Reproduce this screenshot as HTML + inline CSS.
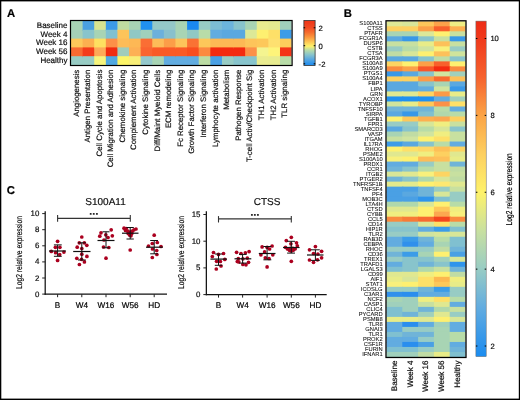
<!DOCTYPE html><html><head><meta charset="utf-8"><style>
html,body{margin:0;padding:0;background:#fff;}
svg{display:block;will-change:transform;}
text{font-family:"Liberation Sans", sans-serif;text-rendering:geometricPrecision;stroke:#000;stroke-width:0.18px;}
</style></head><body>
<svg width="520" height="400" viewBox="0 0 520 400">
<rect x="0" y="0" width="520" height="400" fill="#fff"/>
<rect x="71.00" y="21.00" width="12.61" height="9.80" fill="#a8d4b4"/>
<rect x="71.00" y="29.80" width="12.61" height="9.80" fill="#a4d0b8"/>
<rect x="71.00" y="38.60" width="12.61" height="9.80" fill="#fdc85a"/>
<rect x="71.00" y="47.40" width="12.61" height="9.80" fill="#f86a32"/>
<rect x="71.00" y="56.20" width="12.61" height="8.80" fill="#98ccc4"/>
<rect x="82.61" y="21.00" width="12.61" height="9.80" fill="#4aa0e0"/>
<rect x="82.61" y="29.80" width="12.61" height="9.80" fill="#88c4cc"/>
<rect x="82.61" y="38.60" width="12.61" height="9.80" fill="#fcb050"/>
<rect x="82.61" y="47.40" width="12.61" height="9.80" fill="#f43c1a"/>
<rect x="82.61" y="56.20" width="12.61" height="8.80" fill="#98ccc4"/>
<rect x="94.22" y="21.00" width="12.61" height="9.80" fill="#d8e490"/>
<rect x="94.22" y="29.80" width="12.61" height="9.80" fill="#a8d4b4"/>
<rect x="94.22" y="38.60" width="12.61" height="9.80" fill="#fee060"/>
<rect x="94.22" y="47.40" width="12.61" height="9.80" fill="#fdaa58"/>
<rect x="94.22" y="56.20" width="12.61" height="8.80" fill="#f6f47c"/>
<rect x="105.83" y="21.00" width="12.61" height="9.80" fill="#3c9ae6"/>
<rect x="105.83" y="29.80" width="12.61" height="9.80" fill="#80c0d0"/>
<rect x="105.83" y="38.60" width="12.61" height="9.80" fill="#fc9048"/>
<rect x="105.83" y="47.40" width="12.61" height="9.80" fill="#f02c10"/>
<rect x="105.83" y="56.20" width="12.61" height="8.80" fill="#50a8e0"/>
<rect x="117.44" y="21.00" width="12.61" height="9.80" fill="#c0dca0"/>
<rect x="117.44" y="29.80" width="12.61" height="9.80" fill="#fdc45a"/>
<rect x="117.44" y="38.60" width="12.61" height="9.80" fill="#fdbc58"/>
<rect x="117.44" y="47.40" width="12.61" height="9.80" fill="#a0ccbc"/>
<rect x="117.44" y="56.20" width="12.61" height="8.80" fill="#fcf468"/>
<rect x="129.05" y="21.00" width="12.61" height="9.80" fill="#a8d4b4"/>
<rect x="129.05" y="29.80" width="12.61" height="9.80" fill="#90c8c4"/>
<rect x="129.05" y="38.60" width="12.61" height="9.80" fill="#fdb855"/>
<rect x="129.05" y="47.40" width="12.61" height="9.80" fill="#fdb055"/>
<rect x="129.05" y="56.20" width="12.61" height="8.80" fill="#f8ee78"/>
<rect x="140.66" y="21.00" width="12.61" height="9.80" fill="#2090f0"/>
<rect x="140.66" y="29.80" width="12.61" height="9.80" fill="#a0d0bc"/>
<rect x="140.66" y="38.60" width="12.61" height="9.80" fill="#fa6e34"/>
<rect x="140.66" y="47.40" width="12.61" height="9.80" fill="#fa6430"/>
<rect x="140.66" y="56.20" width="12.61" height="8.80" fill="#94c8cc"/>
<rect x="152.27" y="21.00" width="12.61" height="9.80" fill="#94c8c8"/>
<rect x="152.27" y="29.80" width="12.61" height="9.80" fill="#6cb0dc"/>
<rect x="152.27" y="38.60" width="12.61" height="9.80" fill="#fdbc58"/>
<rect x="152.27" y="47.40" width="12.61" height="9.80" fill="#fa5a26"/>
<rect x="152.27" y="56.20" width="12.61" height="8.80" fill="#a8d4b4"/>
<rect x="163.88" y="21.00" width="12.61" height="9.80" fill="#94c8c8"/>
<rect x="163.88" y="29.80" width="12.61" height="9.80" fill="#88c0cc"/>
<rect x="163.88" y="38.60" width="12.61" height="9.80" fill="#fc9e48"/>
<rect x="163.88" y="47.40" width="12.61" height="9.80" fill="#fa5a26"/>
<rect x="163.88" y="56.20" width="12.61" height="8.80" fill="#62ace0"/>
<rect x="175.49" y="21.00" width="12.61" height="9.80" fill="#a8d4b4"/>
<rect x="175.49" y="29.80" width="12.61" height="9.80" fill="#a8d4b4"/>
<rect x="175.49" y="38.60" width="12.61" height="9.80" fill="#fdc45a"/>
<rect x="175.49" y="47.40" width="12.61" height="9.80" fill="#fa5a26"/>
<rect x="175.49" y="56.20" width="12.61" height="8.80" fill="#62ace0"/>
<rect x="187.11" y="21.00" width="12.61" height="9.80" fill="#1a88f0"/>
<rect x="187.11" y="29.80" width="12.61" height="9.80" fill="#90c8c4"/>
<rect x="187.11" y="38.60" width="12.61" height="9.80" fill="#fa7234"/>
<rect x="187.11" y="47.40" width="12.61" height="9.80" fill="#fa4e1e"/>
<rect x="187.11" y="56.20" width="12.61" height="8.80" fill="#62ace0"/>
<rect x="198.72" y="21.00" width="12.61" height="9.80" fill="#98ccc4"/>
<rect x="198.72" y="29.80" width="12.61" height="9.80" fill="#b8dca8"/>
<rect x="198.72" y="38.60" width="12.61" height="9.80" fill="#fdc85a"/>
<rect x="198.72" y="47.40" width="12.61" height="9.80" fill="#fc8a40"/>
<rect x="198.72" y="56.20" width="12.61" height="8.80" fill="#bcdca4"/>
<rect x="210.33" y="21.00" width="12.61" height="9.80" fill="#7cbcd4"/>
<rect x="210.33" y="29.80" width="12.61" height="9.80" fill="#62ace0"/>
<rect x="210.33" y="38.60" width="12.61" height="9.80" fill="#fdb855"/>
<rect x="210.33" y="47.40" width="12.61" height="9.80" fill="#f42a10"/>
<rect x="210.33" y="56.20" width="12.61" height="8.80" fill="#4aa0e4"/>
<rect x="221.94" y="21.00" width="12.61" height="9.80" fill="#6cb4dc"/>
<rect x="221.94" y="29.80" width="12.61" height="9.80" fill="#5aa8e0"/>
<rect x="221.94" y="38.60" width="12.61" height="9.80" fill="#fdb855"/>
<rect x="221.94" y="47.40" width="12.61" height="9.80" fill="#f42a10"/>
<rect x="221.94" y="56.20" width="12.61" height="8.80" fill="#98ccc4"/>
<rect x="233.55" y="21.00" width="12.61" height="9.80" fill="#88c4cc"/>
<rect x="233.55" y="29.80" width="12.61" height="9.80" fill="#5aa8e0"/>
<rect x="233.55" y="38.60" width="12.61" height="9.80" fill="#fdb855"/>
<rect x="233.55" y="47.40" width="12.61" height="9.80" fill="#f42a10"/>
<rect x="233.55" y="56.20" width="12.61" height="8.80" fill="#88c4cc"/>
<rect x="245.16" y="21.00" width="12.61" height="9.80" fill="#a8d4b4"/>
<rect x="245.16" y="29.80" width="12.61" height="9.80" fill="#dce898"/>
<rect x="245.16" y="38.60" width="12.61" height="9.80" fill="#fdc45a"/>
<rect x="245.16" y="47.40" width="12.61" height="9.80" fill="#fc9048"/>
<rect x="245.16" y="56.20" width="12.61" height="8.80" fill="#88c4cc"/>
<rect x="256.77" y="21.00" width="12.61" height="9.80" fill="#e8ec90"/>
<rect x="256.77" y="29.80" width="12.61" height="9.80" fill="#fef070"/>
<rect x="256.77" y="38.60" width="12.61" height="9.80" fill="#fdc85a"/>
<rect x="256.77" y="47.40" width="12.61" height="9.80" fill="#f4f490"/>
<rect x="256.77" y="56.20" width="12.61" height="8.80" fill="#eaec90"/>
<rect x="268.38" y="21.00" width="12.61" height="9.80" fill="#e4ea90"/>
<rect x="268.38" y="29.80" width="12.61" height="9.80" fill="#fee068"/>
<rect x="268.38" y="38.60" width="12.61" height="9.80" fill="#fee070"/>
<rect x="268.38" y="47.40" width="12.61" height="9.80" fill="#fef47a"/>
<rect x="268.38" y="56.20" width="12.61" height="8.80" fill="#e8ec90"/>
<rect x="279.99" y="21.00" width="11.61" height="9.80" fill="#a0d0bc"/>
<rect x="279.99" y="29.80" width="11.61" height="9.80" fill="#3c9ce8"/>
<rect x="279.99" y="38.60" width="11.61" height="9.80" fill="#fdcc5c"/>
<rect x="279.99" y="47.40" width="11.61" height="9.80" fill="#f43418"/>
<rect x="279.99" y="56.20" width="11.61" height="8.80" fill="#b8dca8"/>
<rect x="70.50" y="20.50" width="221.60" height="45.00" fill="none" stroke="#000" stroke-width="1.2"/>
<text x="67.5" y="27.80" font-size="8" text-anchor="end" fill="#111">Baseline</text>
<text x="67.5" y="36.60" font-size="8" text-anchor="end" fill="#111">Week 4</text>
<text x="67.5" y="45.40" font-size="8" text-anchor="end" fill="#111">Week 16</text>
<text x="67.5" y="54.20" font-size="8" text-anchor="end" fill="#111">Week 56</text>
<text x="67.5" y="63.00" font-size="8" text-anchor="end" fill="#111">Healthy</text>
<text transform="translate(78.51,69.7) rotate(-90)" font-size="7.85" text-anchor="end" fill="#111">Angiogenesis</text>
<text transform="translate(90.09,69.7) rotate(-90)" font-size="7.85" text-anchor="end" fill="#111">Antigen Presentation</text>
<text transform="translate(101.68,69.7) rotate(-90)" font-size="7.85" text-anchor="end" fill="#111">Cell Cycle and Apoptosis</text>
<text transform="translate(113.27,69.7) rotate(-90)" font-size="7.85" text-anchor="end" fill="#111">Cell Migration and Adhesion</text>
<text transform="translate(124.86,69.7) rotate(-90)" font-size="7.85" text-anchor="end" fill="#111">Chemokine signaling</text>
<text transform="translate(136.45,69.7) rotate(-90)" font-size="7.85" text-anchor="end" fill="#111">Complement Activation</text>
<text transform="translate(148.04,69.7) rotate(-90)" font-size="7.85" text-anchor="end" fill="#111">Cytokine Signaling</text>
<text transform="translate(159.62,69.7) rotate(-90)" font-size="7.85" text-anchor="end" fill="#111">Diff/Maint Myeloid Cells</text>
<text transform="translate(171.21,69.7) rotate(-90)" font-size="7.85" text-anchor="end" fill="#111">ECM remodeling</text>
<text transform="translate(182.80,69.7) rotate(-90)" font-size="7.85" text-anchor="end" fill="#111">Fc Receptor Signaling</text>
<text transform="translate(194.39,69.7) rotate(-90)" font-size="7.85" text-anchor="end" fill="#111">Growth Factor Signaling</text>
<text transform="translate(205.98,69.7) rotate(-90)" font-size="7.85" text-anchor="end" fill="#111">Interferon Signaling</text>
<text transform="translate(217.56,69.7) rotate(-90)" font-size="7.85" text-anchor="end" fill="#111">Lymphocyte activation</text>
<text transform="translate(229.15,69.7) rotate(-90)" font-size="7.85" text-anchor="end" fill="#111">Metabolism</text>
<text transform="translate(240.74,69.7) rotate(-90)" font-size="7.85" text-anchor="end" fill="#111">Pathogen Response</text>
<text transform="translate(252.33,69.7) rotate(-90)" font-size="7.85" text-anchor="end" fill="#111">T-cell Activ/Checkpoint Sig</text>
<text transform="translate(263.92,69.7) rotate(-90)" font-size="7.85" text-anchor="end" fill="#111">TH1 Activation</text>
<text transform="translate(275.51,69.7) rotate(-90)" font-size="7.85" text-anchor="end" fill="#111">TH2 Activation</text>
<text transform="translate(287.09,69.7) rotate(-90)" font-size="7.85" text-anchor="end" fill="#111">TLR signaling</text>
<defs>
<linearGradient id="gA" x1="0" y1="1" x2="0" y2="0">
<stop offset="0.000" stop-color="#1e8cf0"/>
<stop offset="0.040" stop-color="#2a92ec"/>
<stop offset="0.140" stop-color="#5aa8e0"/>
<stop offset="0.240" stop-color="#88c4cc"/>
<stop offset="0.340" stop-color="#b8dca8"/>
<stop offset="0.430" stop-color="#fef26a"/>
<stop offset="0.530" stop-color="#fdc454"/>
<stop offset="0.630" stop-color="#fb963c"/>
<stop offset="0.730" stop-color="#f66e2e"/>
<stop offset="0.840" stop-color="#f24a22"/>
<stop offset="1.000" stop-color="#ee3418"/>
</linearGradient>
<linearGradient id="gB" x1="0" y1="1" x2="0" y2="0">
<stop offset="0.000" stop-color="#1a8cf0"/>
<stop offset="0.032" stop-color="#2a92ec"/>
<stop offset="0.146" stop-color="#62ace0"/>
<stop offset="0.261" stop-color="#98ccc4"/>
<stop offset="0.375" stop-color="#c8e0a0"/>
<stop offset="0.489" stop-color="#fef26a"/>
<stop offset="0.603" stop-color="#fdd060"/>
<stop offset="0.718" stop-color="#fba446"/>
<stop offset="0.832" stop-color="#f6622e"/>
<stop offset="0.946" stop-color="#f03a1c"/>
<stop offset="1.000" stop-color="#ee2c16"/>
</linearGradient>
</defs>
<rect x="303.9" y="20.5" width="11.2" height="45" fill="url(#gA)" stroke="#333" stroke-width="0.8"/>
<line x1="303.6" y1="27.75" x2="305.2" y2="27.75" stroke="#000" stroke-width="1"/>
<line x1="313.7" y1="27.75" x2="315.3" y2="27.75" stroke="#000" stroke-width="1"/>
<text x="318.6" y="30.55" font-size="7.7" fill="#111">2</text>
<line x1="303.6" y1="45.70" x2="305.2" y2="45.70" stroke="#000" stroke-width="1"/>
<line x1="313.7" y1="45.70" x2="315.3" y2="45.70" stroke="#000" stroke-width="1"/>
<text x="318.6" y="48.50" font-size="7.7" fill="#111">0</text>
<line x1="303.6" y1="63.80" x2="305.2" y2="63.80" stroke="#000" stroke-width="1"/>
<line x1="313.7" y1="63.80" x2="315.3" y2="63.80" stroke="#000" stroke-width="1"/>
<text x="318.6" y="66.60" font-size="7.7" fill="#111">-2</text>
<rect x="386.50" y="21.30" width="16.80" height="6.01" fill="#dfe896"/>
<rect x="402.30" y="21.30" width="16.80" height="6.01" fill="#d8e69a"/>
<rect x="418.10" y="21.30" width="16.80" height="6.01" fill="#fdc65a"/>
<rect x="433.90" y="21.30" width="16.80" height="6.01" fill="#fca24a"/>
<rect x="449.70" y="21.30" width="15.80" height="6.01" fill="#eeee84"/>
<rect x="386.50" y="26.31" width="16.80" height="6.01" fill="#fdd060"/>
<rect x="402.30" y="26.31" width="16.80" height="6.01" fill="#fdd060"/>
<rect x="418.10" y="26.31" width="16.80" height="6.01" fill="#fca048"/>
<rect x="433.90" y="26.31" width="16.80" height="6.01" fill="#f8602c"/>
<rect x="449.70" y="26.31" width="15.80" height="6.01" fill="#fcb050"/>
<rect x="386.50" y="31.32" width="16.80" height="6.01" fill="#a8d4b4"/>
<rect x="402.30" y="31.32" width="16.80" height="6.01" fill="#a8d4b4"/>
<rect x="418.10" y="31.32" width="16.80" height="6.01" fill="#dce898"/>
<rect x="433.90" y="31.32" width="16.80" height="6.01" fill="#fef070"/>
<rect x="449.70" y="31.32" width="15.80" height="6.01" fill="#c8e0a0"/>
<rect x="386.50" y="36.33" width="16.80" height="6.01" fill="#5aa8e0"/>
<rect x="402.30" y="36.33" width="16.80" height="6.01" fill="#3898e8"/>
<rect x="418.10" y="36.33" width="16.80" height="6.01" fill="#88c4cc"/>
<rect x="433.90" y="36.33" width="16.80" height="6.01" fill="#c8e0a0"/>
<rect x="449.70" y="36.33" width="15.80" height="6.01" fill="#3898e8"/>
<rect x="386.50" y="41.34" width="16.80" height="6.01" fill="#c8e0a0"/>
<rect x="402.30" y="41.34" width="16.80" height="6.01" fill="#c8e0a0"/>
<rect x="418.10" y="41.34" width="16.80" height="6.01" fill="#e8ec88"/>
<rect x="433.90" y="41.34" width="16.80" height="6.01" fill="#fdc05a"/>
<rect x="449.70" y="41.34" width="15.80" height="6.01" fill="#c8e0a0"/>
<rect x="386.50" y="46.35" width="16.80" height="6.01" fill="#98ccc4"/>
<rect x="402.30" y="46.35" width="16.80" height="6.01" fill="#b8dca8"/>
<rect x="418.10" y="46.35" width="16.80" height="6.01" fill="#d0e4a0"/>
<rect x="433.90" y="46.35" width="16.80" height="6.01" fill="#f8f07c"/>
<rect x="449.70" y="46.35" width="15.80" height="6.01" fill="#98ccc4"/>
<rect x="386.50" y="51.36" width="16.80" height="6.01" fill="#c0dca4"/>
<rect x="402.30" y="51.36" width="16.80" height="6.01" fill="#d8e698"/>
<rect x="418.10" y="51.36" width="16.80" height="6.01" fill="#fef070"/>
<rect x="433.90" y="51.36" width="16.80" height="6.01" fill="#fdc05a"/>
<rect x="449.70" y="51.36" width="15.80" height="6.01" fill="#d0e49c"/>
<rect x="386.50" y="56.37" width="16.80" height="6.01" fill="#5aa8e0"/>
<rect x="402.30" y="56.37" width="16.80" height="6.01" fill="#5aa8e0"/>
<rect x="418.10" y="56.37" width="16.80" height="6.01" fill="#88c4cc"/>
<rect x="433.90" y="56.37" width="16.80" height="6.01" fill="#c0dca4"/>
<rect x="449.70" y="56.37" width="15.80" height="6.01" fill="#88c4cc"/>
<rect x="386.50" y="61.38" width="16.80" height="6.01" fill="#fdd462"/>
<rect x="402.30" y="61.38" width="16.80" height="6.01" fill="#fef070"/>
<rect x="418.10" y="61.38" width="16.80" height="6.01" fill="#fca048"/>
<rect x="433.90" y="61.38" width="16.80" height="6.01" fill="#f8602c"/>
<rect x="449.70" y="61.38" width="15.80" height="6.01" fill="#fef070"/>
<rect x="386.50" y="66.39" width="16.80" height="6.01" fill="#fa8a3e"/>
<rect x="402.30" y="66.39" width="16.80" height="6.01" fill="#fca048"/>
<rect x="418.10" y="66.39" width="16.80" height="6.01" fill="#f8562a"/>
<rect x="433.90" y="66.39" width="16.80" height="6.01" fill="#f42a10"/>
<rect x="449.70" y="66.39" width="15.80" height="6.01" fill="#fa8a3e"/>
<rect x="386.50" y="71.40" width="16.80" height="6.01" fill="#3898e8"/>
<rect x="402.30" y="71.40" width="16.80" height="6.01" fill="#5aa8e0"/>
<rect x="418.10" y="71.40" width="16.80" height="6.01" fill="#88c4cc"/>
<rect x="433.90" y="71.40" width="16.80" height="6.01" fill="#d0e4a0"/>
<rect x="449.70" y="71.40" width="15.80" height="6.01" fill="#a0d0bc"/>
<rect x="386.50" y="76.41" width="16.80" height="6.01" fill="#fdd060"/>
<rect x="402.30" y="76.41" width="16.80" height="6.01" fill="#fdd060"/>
<rect x="418.10" y="76.41" width="16.80" height="6.01" fill="#fc9a48"/>
<rect x="433.90" y="76.41" width="16.80" height="6.01" fill="#f86a30"/>
<rect x="449.70" y="76.41" width="15.80" height="6.01" fill="#fdc058"/>
<rect x="386.50" y="81.42" width="16.80" height="6.01" fill="#5aa8e0"/>
<rect x="402.30" y="81.42" width="16.80" height="6.01" fill="#5aa8e0"/>
<rect x="418.10" y="81.42" width="16.80" height="6.01" fill="#88c4cc"/>
<rect x="433.90" y="81.42" width="16.80" height="6.01" fill="#a8d4b4"/>
<rect x="449.70" y="81.42" width="15.80" height="6.01" fill="#5aa8e0"/>
<rect x="386.50" y="86.43" width="16.80" height="6.01" fill="#5aa8e0"/>
<rect x="402.30" y="86.43" width="16.80" height="6.01" fill="#5aa8e0"/>
<rect x="418.10" y="86.43" width="16.80" height="6.01" fill="#62ace0"/>
<rect x="433.90" y="86.43" width="16.80" height="6.01" fill="#d0e4a0"/>
<rect x="449.70" y="86.43" width="15.80" height="6.01" fill="#3898e8"/>
<rect x="386.50" y="91.44" width="16.80" height="6.01" fill="#e0e890"/>
<rect x="402.30" y="91.44" width="16.80" height="6.01" fill="#e0e890"/>
<rect x="418.10" y="91.44" width="16.80" height="6.01" fill="#fdd462"/>
<rect x="433.90" y="91.44" width="16.80" height="6.01" fill="#fc9a48"/>
<rect x="449.70" y="91.44" width="15.80" height="6.01" fill="#e8ec88"/>
<rect x="386.50" y="96.45" width="16.80" height="6.01" fill="#2090f0"/>
<rect x="402.30" y="96.45" width="16.80" height="6.01" fill="#2090f0"/>
<rect x="418.10" y="96.45" width="16.80" height="6.01" fill="#2090f0"/>
<rect x="433.90" y="96.45" width="16.80" height="6.01" fill="#62ace0"/>
<rect x="449.70" y="96.45" width="15.80" height="6.01" fill="#a0d0bc"/>
<rect x="386.50" y="101.46" width="16.80" height="6.01" fill="#d0e49c"/>
<rect x="402.30" y="101.46" width="16.80" height="6.01" fill="#e8ec88"/>
<rect x="418.10" y="101.46" width="16.80" height="6.01" fill="#fdc85a"/>
<rect x="433.90" y="101.46" width="16.80" height="6.01" fill="#fc9048"/>
<rect x="449.70" y="101.46" width="15.80" height="6.01" fill="#fee068"/>
<rect x="386.50" y="106.47" width="16.80" height="6.01" fill="#70b4d8"/>
<rect x="402.30" y="106.47" width="16.80" height="6.01" fill="#70b4d8"/>
<rect x="418.10" y="106.47" width="16.80" height="6.01" fill="#70b4d8"/>
<rect x="433.90" y="106.47" width="16.80" height="6.01" fill="#b8dca8"/>
<rect x="449.70" y="106.47" width="15.80" height="6.01" fill="#62ace0"/>
<rect x="386.50" y="111.48" width="16.80" height="6.01" fill="#5aa8e0"/>
<rect x="402.30" y="111.48" width="16.80" height="6.01" fill="#3898e8"/>
<rect x="418.10" y="111.48" width="16.80" height="6.01" fill="#80c0d0"/>
<rect x="433.90" y="111.48" width="16.80" height="6.01" fill="#b0d8ac"/>
<rect x="449.70" y="111.48" width="15.80" height="6.01" fill="#b8dca8"/>
<rect x="386.50" y="116.49" width="16.80" height="6.01" fill="#fef070"/>
<rect x="402.30" y="116.49" width="16.80" height="6.01" fill="#fdc85a"/>
<rect x="418.10" y="116.49" width="16.80" height="6.01" fill="#fdb050"/>
<rect x="433.90" y="116.49" width="16.80" height="6.01" fill="#fca850"/>
<rect x="449.70" y="116.49" width="15.80" height="6.01" fill="#fdd060"/>
<rect x="386.50" y="121.50" width="16.80" height="6.01" fill="#98ccc4"/>
<rect x="402.30" y="121.50" width="16.80" height="6.01" fill="#98ccc4"/>
<rect x="418.10" y="121.50" width="16.80" height="6.01" fill="#d8e698"/>
<rect x="433.90" y="121.50" width="16.80" height="6.01" fill="#f0ee80"/>
<rect x="449.70" y="121.50" width="15.80" height="6.01" fill="#c8e0a0"/>
<rect x="386.50" y="126.51" width="16.80" height="6.01" fill="#5aa8e0"/>
<rect x="402.30" y="126.51" width="16.80" height="6.01" fill="#88c4cc"/>
<rect x="418.10" y="126.51" width="16.80" height="6.01" fill="#b8dca8"/>
<rect x="433.90" y="126.51" width="16.80" height="6.01" fill="#d8e698"/>
<rect x="449.70" y="126.51" width="15.80" height="6.01" fill="#88c4cc"/>
<rect x="386.50" y="131.52" width="16.80" height="6.01" fill="#a8d4b4"/>
<rect x="402.30" y="131.52" width="16.80" height="6.01" fill="#c0dca4"/>
<rect x="418.10" y="131.52" width="16.80" height="6.01" fill="#d0e4a0"/>
<rect x="433.90" y="131.52" width="16.80" height="6.01" fill="#f0ee80"/>
<rect x="449.70" y="131.52" width="15.80" height="6.01" fill="#c8e0a0"/>
<rect x="386.50" y="136.53" width="16.80" height="6.01" fill="#c8e0a0"/>
<rect x="402.30" y="136.53" width="16.80" height="6.01" fill="#d0e4a0"/>
<rect x="418.10" y="136.53" width="16.80" height="6.01" fill="#fef070"/>
<rect x="433.90" y="136.53" width="16.80" height="6.01" fill="#fee068"/>
<rect x="449.70" y="136.53" width="15.80" height="6.01" fill="#c8e0a0"/>
<rect x="386.50" y="141.54" width="16.80" height="6.01" fill="#3c9ce8"/>
<rect x="402.30" y="141.54" width="16.80" height="6.01" fill="#5aa8e0"/>
<rect x="418.10" y="141.54" width="16.80" height="6.01" fill="#88c4cc"/>
<rect x="433.90" y="141.54" width="16.80" height="6.01" fill="#b8dca8"/>
<rect x="449.70" y="141.54" width="15.80" height="6.01" fill="#62ace0"/>
<rect x="386.50" y="146.55" width="16.80" height="6.01" fill="#fef070"/>
<rect x="402.30" y="146.55" width="16.80" height="6.01" fill="#fee068"/>
<rect x="418.10" y="146.55" width="16.80" height="6.01" fill="#fdd868"/>
<rect x="433.90" y="146.55" width="16.80" height="6.01" fill="#fdc058"/>
<rect x="449.70" y="146.55" width="15.80" height="6.01" fill="#fdd462"/>
<rect x="386.50" y="151.56" width="16.80" height="6.01" fill="#e0e890"/>
<rect x="402.30" y="151.56" width="16.80" height="6.01" fill="#e0e890"/>
<rect x="418.10" y="151.56" width="16.80" height="6.01" fill="#f0ee80"/>
<rect x="433.90" y="151.56" width="16.80" height="6.01" fill="#fdd060"/>
<rect x="449.70" y="151.56" width="15.80" height="6.01" fill="#e0e890"/>
<rect x="386.50" y="156.57" width="16.80" height="6.01" fill="#f8f07c"/>
<rect x="402.30" y="156.57" width="16.80" height="6.01" fill="#fef070"/>
<rect x="418.10" y="156.57" width="16.80" height="6.01" fill="#fdbc58"/>
<rect x="433.90" y="156.57" width="16.80" height="6.01" fill="#fdc05a"/>
<rect x="449.70" y="156.57" width="15.80" height="6.01" fill="#e8ec88"/>
<rect x="386.50" y="161.58" width="16.80" height="6.01" fill="#62ace0"/>
<rect x="402.30" y="161.58" width="16.80" height="6.01" fill="#62ace0"/>
<rect x="418.10" y="161.58" width="16.80" height="6.01" fill="#98ccc4"/>
<rect x="433.90" y="161.58" width="16.80" height="6.01" fill="#c8e0a0"/>
<rect x="449.70" y="161.58" width="15.80" height="6.01" fill="#70b4d8"/>
<rect x="386.50" y="166.59" width="16.80" height="6.01" fill="#70b4d8"/>
<rect x="402.30" y="166.59" width="16.80" height="6.01" fill="#88c4cc"/>
<rect x="418.10" y="166.59" width="16.80" height="6.01" fill="#b8dca8"/>
<rect x="433.90" y="166.59" width="16.80" height="6.01" fill="#c8e0a0"/>
<rect x="449.70" y="166.59" width="15.80" height="6.01" fill="#c0dca4"/>
<rect x="386.50" y="171.60" width="16.80" height="6.01" fill="#d8e698"/>
<rect x="402.30" y="171.60" width="16.80" height="6.01" fill="#e0e890"/>
<rect x="418.10" y="171.60" width="16.80" height="6.01" fill="#f8f07c"/>
<rect x="433.90" y="171.60" width="16.80" height="6.01" fill="#fdd462"/>
<rect x="449.70" y="171.60" width="15.80" height="6.01" fill="#c8e0a0"/>
<rect x="386.50" y="176.61" width="16.80" height="6.01" fill="#70b4d8"/>
<rect x="402.30" y="176.61" width="16.80" height="6.01" fill="#88c4cc"/>
<rect x="418.10" y="176.61" width="16.80" height="6.01" fill="#b0d8ac"/>
<rect x="433.90" y="176.61" width="16.80" height="6.01" fill="#d8e698"/>
<rect x="449.70" y="176.61" width="15.80" height="6.01" fill="#c0dca4"/>
<rect x="386.50" y="181.62" width="16.80" height="6.01" fill="#e4ea8c"/>
<rect x="402.30" y="181.62" width="16.80" height="6.01" fill="#e4ea8c"/>
<rect x="418.10" y="181.62" width="16.80" height="6.01" fill="#fef070"/>
<rect x="433.90" y="181.62" width="16.80" height="6.01" fill="#fee870"/>
<rect x="449.70" y="181.62" width="15.80" height="6.01" fill="#e0e890"/>
<rect x="386.50" y="186.63" width="16.80" height="6.01" fill="#4aa0e4"/>
<rect x="402.30" y="186.63" width="16.80" height="6.01" fill="#4aa0e4"/>
<rect x="418.10" y="186.63" width="16.80" height="6.01" fill="#70b4d8"/>
<rect x="433.90" y="186.63" width="16.80" height="6.01" fill="#98ccc4"/>
<rect x="449.70" y="186.63" width="15.80" height="6.01" fill="#c8e0a0"/>
<rect x="386.50" y="191.64" width="16.80" height="6.01" fill="#4aa0e4"/>
<rect x="402.30" y="191.64" width="16.80" height="6.01" fill="#5aa8e0"/>
<rect x="418.10" y="191.64" width="16.80" height="6.01" fill="#70b4d8"/>
<rect x="433.90" y="191.64" width="16.80" height="6.01" fill="#d8e698"/>
<rect x="449.70" y="191.64" width="15.80" height="6.01" fill="#98ccc4"/>
<rect x="386.50" y="196.65" width="16.80" height="6.01" fill="#4aa0e4"/>
<rect x="402.30" y="196.65" width="16.80" height="6.01" fill="#4aa0e4"/>
<rect x="418.10" y="196.65" width="16.80" height="6.01" fill="#2e94ec"/>
<rect x="433.90" y="196.65" width="16.80" height="6.01" fill="#80c0d0"/>
<rect x="449.70" y="196.65" width="15.80" height="6.01" fill="#98ccc4"/>
<rect x="386.50" y="201.66" width="16.80" height="6.01" fill="#b0d8ac"/>
<rect x="402.30" y="201.66" width="16.80" height="6.01" fill="#b0d8ac"/>
<rect x="418.10" y="201.66" width="16.80" height="6.01" fill="#d8e698"/>
<rect x="433.90" y="201.66" width="16.80" height="6.01" fill="#fef070"/>
<rect x="449.70" y="201.66" width="15.80" height="6.01" fill="#b8dca8"/>
<rect x="386.50" y="206.67" width="16.80" height="6.01" fill="#e0e890"/>
<rect x="402.30" y="206.67" width="16.80" height="6.01" fill="#e0e890"/>
<rect x="418.10" y="206.67" width="16.80" height="6.01" fill="#fef070"/>
<rect x="433.90" y="206.67" width="16.80" height="6.01" fill="#fdc85a"/>
<rect x="449.70" y="206.67" width="15.80" height="6.01" fill="#f0ee80"/>
<rect x="386.50" y="211.68" width="16.80" height="6.01" fill="#f0ee80"/>
<rect x="402.30" y="211.68" width="16.80" height="6.01" fill="#f0ee80"/>
<rect x="418.10" y="211.68" width="16.80" height="6.01" fill="#fef070"/>
<rect x="433.90" y="211.68" width="16.80" height="6.01" fill="#fca850"/>
<rect x="449.70" y="211.68" width="15.80" height="6.01" fill="#f8f07c"/>
<rect x="386.50" y="216.69" width="16.80" height="6.01" fill="#fa8a3e"/>
<rect x="402.30" y="216.69" width="16.80" height="6.01" fill="#f87a36"/>
<rect x="418.10" y="216.69" width="16.80" height="6.01" fill="#f86a30"/>
<rect x="433.90" y="216.69" width="16.80" height="6.01" fill="#f4461e"/>
<rect x="449.70" y="216.69" width="15.80" height="6.01" fill="#fa8a3e"/>
<rect x="386.50" y="221.70" width="16.80" height="6.01" fill="#98ccc4"/>
<rect x="402.30" y="221.70" width="16.80" height="6.01" fill="#98ccc4"/>
<rect x="418.10" y="221.70" width="16.80" height="6.01" fill="#d8e698"/>
<rect x="433.90" y="221.70" width="16.80" height="6.01" fill="#fee068"/>
<rect x="449.70" y="221.70" width="15.80" height="6.01" fill="#b8dca8"/>
<rect x="386.50" y="226.71" width="16.80" height="6.01" fill="#88c4cc"/>
<rect x="402.30" y="226.71" width="16.80" height="6.01" fill="#88c4cc"/>
<rect x="418.10" y="226.71" width="16.80" height="6.01" fill="#62ace0"/>
<rect x="433.90" y="226.71" width="16.80" height="6.01" fill="#3c9ce8"/>
<rect x="449.70" y="226.71" width="15.80" height="6.01" fill="#80c0d0"/>
<rect x="386.50" y="231.72" width="16.80" height="6.01" fill="#98ccc4"/>
<rect x="402.30" y="231.72" width="16.80" height="6.01" fill="#98ccc4"/>
<rect x="418.10" y="231.72" width="16.80" height="6.01" fill="#d0e4a0"/>
<rect x="433.90" y="231.72" width="16.80" height="6.01" fill="#d8e698"/>
<rect x="449.70" y="231.72" width="15.80" height="6.01" fill="#d8e698"/>
<rect x="386.50" y="236.73" width="16.80" height="6.01" fill="#62ace0"/>
<rect x="402.30" y="236.73" width="16.80" height="6.01" fill="#3c9ce8"/>
<rect x="418.10" y="236.73" width="16.80" height="6.01" fill="#70b4d8"/>
<rect x="433.90" y="236.73" width="16.80" height="6.01" fill="#b8dca8"/>
<rect x="449.70" y="236.73" width="15.80" height="6.01" fill="#80c0d0"/>
<rect x="386.50" y="241.74" width="16.80" height="6.01" fill="#62ace0"/>
<rect x="402.30" y="241.74" width="16.80" height="6.01" fill="#3090ec"/>
<rect x="418.10" y="241.74" width="16.80" height="6.01" fill="#62ace0"/>
<rect x="433.90" y="241.74" width="16.80" height="6.01" fill="#a8d4b4"/>
<rect x="449.70" y="241.74" width="15.80" height="6.01" fill="#80c0d0"/>
<rect x="386.50" y="246.75" width="16.80" height="6.01" fill="#98ccc4"/>
<rect x="402.30" y="246.75" width="16.80" height="6.01" fill="#98ccc4"/>
<rect x="418.10" y="246.75" width="16.80" height="6.01" fill="#98ccc4"/>
<rect x="433.90" y="246.75" width="16.80" height="6.01" fill="#c0dca4"/>
<rect x="449.70" y="246.75" width="15.80" height="6.01" fill="#70b4d8"/>
<rect x="386.50" y="251.76" width="16.80" height="6.01" fill="#70b4d8"/>
<rect x="402.30" y="251.76" width="16.80" height="6.01" fill="#3c9ce8"/>
<rect x="418.10" y="251.76" width="16.80" height="6.01" fill="#a8d4b4"/>
<rect x="433.90" y="251.76" width="16.80" height="6.01" fill="#fef070"/>
<rect x="449.70" y="251.76" width="15.80" height="6.01" fill="#4aa0e4"/>
<rect x="386.50" y="256.77" width="16.80" height="6.01" fill="#98ccc4"/>
<rect x="402.30" y="256.77" width="16.80" height="6.01" fill="#88c4cc"/>
<rect x="418.10" y="256.77" width="16.80" height="6.01" fill="#88c4cc"/>
<rect x="433.90" y="256.77" width="16.80" height="6.01" fill="#a0d0bc"/>
<rect x="449.70" y="256.77" width="15.80" height="6.01" fill="#d8e698"/>
<rect x="386.50" y="261.78" width="16.80" height="6.01" fill="#62ace0"/>
<rect x="402.30" y="261.78" width="16.80" height="6.01" fill="#88c4cc"/>
<rect x="418.10" y="261.78" width="16.80" height="6.01" fill="#70b4d8"/>
<rect x="433.90" y="261.78" width="16.80" height="6.01" fill="#88c4cc"/>
<rect x="449.70" y="261.78" width="15.80" height="6.01" fill="#2e94ec"/>
<rect x="386.50" y="266.79" width="16.80" height="6.01" fill="#80c0d0"/>
<rect x="402.30" y="266.79" width="16.80" height="6.01" fill="#88c4cc"/>
<rect x="418.10" y="266.79" width="16.80" height="6.01" fill="#b0d8ac"/>
<rect x="433.90" y="266.79" width="16.80" height="6.01" fill="#c8e0a0"/>
<rect x="449.70" y="266.79" width="15.80" height="6.01" fill="#70b4d8"/>
<rect x="386.50" y="271.80" width="16.80" height="6.01" fill="#e0e890"/>
<rect x="402.30" y="271.80" width="16.80" height="6.01" fill="#e0e890"/>
<rect x="418.10" y="271.80" width="16.80" height="6.01" fill="#f0ee80"/>
<rect x="433.90" y="271.80" width="16.80" height="6.01" fill="#fef070"/>
<rect x="449.70" y="271.80" width="15.80" height="6.01" fill="#c0dca4"/>
<rect x="386.50" y="276.81" width="16.80" height="6.01" fill="#e8ec88"/>
<rect x="402.30" y="276.81" width="16.80" height="6.01" fill="#d8e698"/>
<rect x="418.10" y="276.81" width="16.80" height="6.01" fill="#fee068"/>
<rect x="433.90" y="276.81" width="16.80" height="6.01" fill="#fdb850"/>
<rect x="449.70" y="276.81" width="15.80" height="6.01" fill="#f0ee80"/>
<rect x="386.50" y="281.82" width="16.80" height="6.01" fill="#f8f07c"/>
<rect x="402.30" y="281.82" width="16.80" height="6.01" fill="#fef070"/>
<rect x="418.10" y="281.82" width="16.80" height="6.01" fill="#fee068"/>
<rect x="433.90" y="281.82" width="16.80" height="6.01" fill="#fdc85a"/>
<rect x="449.70" y="281.82" width="15.80" height="6.01" fill="#e8ec88"/>
<rect x="386.50" y="286.83" width="16.80" height="6.01" fill="#98ccc4"/>
<rect x="402.30" y="286.83" width="16.80" height="6.01" fill="#98ccc4"/>
<rect x="418.10" y="286.83" width="16.80" height="6.01" fill="#70b4d8"/>
<rect x="433.90" y="286.83" width="16.80" height="6.01" fill="#3c9ce8"/>
<rect x="449.70" y="286.83" width="15.80" height="6.01" fill="#98ccc4"/>
<rect x="386.50" y="291.84" width="16.80" height="6.01" fill="#3090ec"/>
<rect x="402.30" y="291.84" width="16.80" height="6.01" fill="#2a8eee"/>
<rect x="418.10" y="291.84" width="16.80" height="6.01" fill="#62ace0"/>
<rect x="433.90" y="291.84" width="16.80" height="6.01" fill="#62ace0"/>
<rect x="449.70" y="291.84" width="15.80" height="6.01" fill="#98ccc4"/>
<rect x="386.50" y="296.85" width="16.80" height="6.01" fill="#a8d4b4"/>
<rect x="402.30" y="296.85" width="16.80" height="6.01" fill="#a0d0bc"/>
<rect x="418.10" y="296.85" width="16.80" height="6.01" fill="#f0ee80"/>
<rect x="433.90" y="296.85" width="16.80" height="6.01" fill="#fee068"/>
<rect x="449.70" y="296.85" width="15.80" height="6.01" fill="#b8dca8"/>
<rect x="386.50" y="301.86" width="16.80" height="6.01" fill="#a0d0bc"/>
<rect x="402.30" y="301.86" width="16.80" height="6.01" fill="#a0d0bc"/>
<rect x="418.10" y="301.86" width="16.80" height="6.01" fill="#c8e0a0"/>
<rect x="433.90" y="301.86" width="16.80" height="6.01" fill="#e0e890"/>
<rect x="449.70" y="301.86" width="15.80" height="6.01" fill="#62ace0"/>
<rect x="386.50" y="306.87" width="16.80" height="6.01" fill="#80c0d0"/>
<rect x="402.30" y="306.87" width="16.80" height="6.01" fill="#a0d0bc"/>
<rect x="418.10" y="306.87" width="16.80" height="6.01" fill="#70b4d8"/>
<rect x="433.90" y="306.87" width="16.80" height="6.01" fill="#b0d8ac"/>
<rect x="449.70" y="306.87" width="15.80" height="6.01" fill="#c8e0a0"/>
<rect x="386.50" y="311.88" width="16.80" height="6.01" fill="#80c0d0"/>
<rect x="402.30" y="311.88" width="16.80" height="6.01" fill="#70b4d8"/>
<rect x="418.10" y="311.88" width="16.80" height="6.01" fill="#a0d0bc"/>
<rect x="433.90" y="311.88" width="16.80" height="6.01" fill="#e0e890"/>
<rect x="449.70" y="311.88" width="15.80" height="6.01" fill="#98ccc4"/>
<rect x="386.50" y="316.89" width="16.80" height="6.01" fill="#e8ec88"/>
<rect x="402.30" y="316.89" width="16.80" height="6.01" fill="#e8ec88"/>
<rect x="418.10" y="316.89" width="16.80" height="6.01" fill="#e0e890"/>
<rect x="433.90" y="316.89" width="16.80" height="6.01" fill="#fef070"/>
<rect x="449.70" y="316.89" width="15.80" height="6.01" fill="#d8e698"/>
<rect x="386.50" y="321.90" width="16.80" height="6.01" fill="#62ace0"/>
<rect x="402.30" y="321.90" width="16.80" height="6.01" fill="#2a8eee"/>
<rect x="418.10" y="321.90" width="16.80" height="6.01" fill="#62ace0"/>
<rect x="433.90" y="321.90" width="16.80" height="6.01" fill="#a0d0bc"/>
<rect x="449.70" y="321.90" width="15.80" height="6.01" fill="#62ace0"/>
<rect x="386.50" y="326.91" width="16.80" height="6.01" fill="#62ace0"/>
<rect x="402.30" y="326.91" width="16.80" height="6.01" fill="#98ccc4"/>
<rect x="418.10" y="326.91" width="16.80" height="6.01" fill="#98ccc4"/>
<rect x="433.90" y="326.91" width="16.80" height="6.01" fill="#a8d4b4"/>
<rect x="449.70" y="326.91" width="15.80" height="6.01" fill="#62ace0"/>
<rect x="386.50" y="331.92" width="16.80" height="6.01" fill="#80c0d0"/>
<rect x="402.30" y="331.92" width="16.80" height="6.01" fill="#70b4d8"/>
<rect x="418.10" y="331.92" width="16.80" height="6.01" fill="#70b4d8"/>
<rect x="433.90" y="331.92" width="16.80" height="6.01" fill="#a8d4b4"/>
<rect x="449.70" y="331.92" width="15.80" height="6.01" fill="#b8dca8"/>
<rect x="386.50" y="336.93" width="16.80" height="6.01" fill="#62ace0"/>
<rect x="402.30" y="336.93" width="16.80" height="6.01" fill="#62ace0"/>
<rect x="418.10" y="336.93" width="16.80" height="6.01" fill="#98ccc4"/>
<rect x="433.90" y="336.93" width="16.80" height="6.01" fill="#a8d4b4"/>
<rect x="449.70" y="336.93" width="15.80" height="6.01" fill="#b8dca8"/>
<rect x="386.50" y="341.94" width="16.80" height="6.01" fill="#62ace0"/>
<rect x="402.30" y="341.94" width="16.80" height="6.01" fill="#2a8eee"/>
<rect x="418.10" y="341.94" width="16.80" height="6.01" fill="#4aa0e4"/>
<rect x="433.90" y="341.94" width="16.80" height="6.01" fill="#a8d4b4"/>
<rect x="449.70" y="341.94" width="15.80" height="6.01" fill="#62ace0"/>
<rect x="386.50" y="346.95" width="16.80" height="6.01" fill="#80c0d0"/>
<rect x="402.30" y="346.95" width="16.80" height="6.01" fill="#80c0d0"/>
<rect x="418.10" y="346.95" width="16.80" height="6.01" fill="#98ccc4"/>
<rect x="433.90" y="346.95" width="16.80" height="6.01" fill="#a8d4b4"/>
<rect x="449.70" y="346.95" width="15.80" height="6.01" fill="#70b4d8"/>
<rect x="386.50" y="351.96" width="16.80" height="5.01" fill="#a0d0bc"/>
<rect x="402.30" y="351.96" width="16.80" height="5.01" fill="#a0d0bc"/>
<rect x="418.10" y="351.96" width="16.80" height="5.01" fill="#c0dca4"/>
<rect x="433.90" y="351.96" width="16.80" height="5.01" fill="#e8ec88"/>
<rect x="449.70" y="351.96" width="15.80" height="5.01" fill="#80c0d0"/>
<rect x="386.00" y="20.80" width="80.00" height="336.67" fill="none" stroke="#000" stroke-width="1.3"/>
<text x="382.6" y="25.30" font-size="5.75" text-anchor="end" fill="#111" style="stroke-width:0.06px">S100A11</text>
<text x="382.6" y="30.32" font-size="5.75" text-anchor="end" fill="#111" style="stroke-width:0.06px">CTSS</text>
<text x="382.6" y="35.33" font-size="5.75" text-anchor="end" fill="#111" style="stroke-width:0.06px">PTAFR</text>
<text x="382.6" y="40.35" font-size="5.75" text-anchor="end" fill="#111" style="stroke-width:0.06px">FCGR1A</text>
<text x="382.6" y="45.36" font-size="5.75" text-anchor="end" fill="#111" style="stroke-width:0.06px">DUSP6</text>
<text x="382.6" y="50.38" font-size="5.75" text-anchor="end" fill="#111" style="stroke-width:0.06px">CSTB</text>
<text x="382.6" y="55.40" font-size="5.75" text-anchor="end" fill="#111" style="stroke-width:0.06px">CTSA</text>
<text x="382.6" y="60.41" font-size="5.75" text-anchor="end" fill="#111" style="stroke-width:0.06px">FCGR3A</text>
<text x="382.6" y="65.43" font-size="5.75" text-anchor="end" fill="#111" style="stroke-width:0.06px">S100A8</text>
<text x="382.6" y="70.44" font-size="5.75" text-anchor="end" fill="#111" style="stroke-width:0.06px">S100A9</text>
<text x="382.6" y="75.46" font-size="5.75" text-anchor="end" fill="#111" style="stroke-width:0.06px">PTGS1</text>
<text x="382.6" y="80.48" font-size="5.75" text-anchor="end" fill="#111" style="stroke-width:0.06px">S100A4</text>
<text x="382.6" y="85.49" font-size="5.75" text-anchor="end" fill="#111" style="stroke-width:0.06px">FBP1</text>
<text x="382.6" y="90.51" font-size="5.75" text-anchor="end" fill="#111" style="stroke-width:0.06px">LIPA</text>
<text x="382.6" y="95.52" font-size="5.75" text-anchor="end" fill="#111" style="stroke-width:0.06px">GRN</text>
<text x="382.6" y="100.54" font-size="5.75" text-anchor="end" fill="#111" style="stroke-width:0.06px">ACOX1</text>
<text x="382.6" y="105.56" font-size="5.75" text-anchor="end" fill="#111" style="stroke-width:0.06px">TYROBP</text>
<text x="382.6" y="110.57" font-size="5.75" text-anchor="end" fill="#111" style="stroke-width:0.06px">TNFSF10</text>
<text x="382.6" y="115.59" font-size="5.75" text-anchor="end" fill="#111" style="stroke-width:0.06px">SIRPA</text>
<text x="382.6" y="120.60" font-size="5.75" text-anchor="end" fill="#111" style="stroke-width:0.06px">TGFB1</text>
<text x="382.6" y="125.62" font-size="5.75" text-anchor="end" fill="#111" style="stroke-width:0.06px">FPR1</text>
<text x="382.6" y="130.64" font-size="5.75" text-anchor="end" fill="#111" style="stroke-width:0.06px">SMARCD3</text>
<text x="382.6" y="135.65" font-size="5.75" text-anchor="end" fill="#111" style="stroke-width:0.06px">VASP</text>
<text x="382.6" y="140.67" font-size="5.75" text-anchor="end" fill="#111" style="stroke-width:0.06px">ITGAM</text>
<text x="382.6" y="145.68" font-size="5.75" text-anchor="end" fill="#111" style="stroke-width:0.06px">IL17RA</text>
<text x="382.6" y="150.70" font-size="5.75" text-anchor="end" fill="#111" style="stroke-width:0.06px">RHOG</text>
<text x="382.6" y="155.72" font-size="5.75" text-anchor="end" fill="#111" style="stroke-width:0.06px">PSME2</text>
<text x="382.6" y="160.73" font-size="5.75" text-anchor="end" fill="#111" style="stroke-width:0.06px">S100A10</text>
<text x="382.6" y="165.75" font-size="5.75" text-anchor="end" fill="#111" style="stroke-width:0.06px">PRDX1</text>
<text x="382.6" y="170.76" font-size="5.75" text-anchor="end" fill="#111" style="stroke-width:0.06px">CCR1</text>
<text x="382.6" y="175.78" font-size="5.75" text-anchor="end" fill="#111" style="stroke-width:0.06px">ITGB2</text>
<text x="382.6" y="180.80" font-size="5.75" text-anchor="end" fill="#111" style="stroke-width:0.06px">PTGER2</text>
<text x="382.6" y="185.81" font-size="5.75" text-anchor="end" fill="#111" style="stroke-width:0.06px">TNFRSF1B</text>
<text x="382.6" y="190.83" font-size="5.75" text-anchor="end" fill="#111" style="stroke-width:0.06px">TNFSF4</text>
<text x="382.6" y="195.84" font-size="5.75" text-anchor="end" fill="#111" style="stroke-width:0.06px">PF4</text>
<text x="382.6" y="200.86" font-size="5.75" text-anchor="end" fill="#111" style="stroke-width:0.06px">MOB3C</text>
<text x="382.6" y="205.88" font-size="5.75" text-anchor="end" fill="#111" style="stroke-width:0.06px">LTA4H</text>
<text x="382.6" y="210.89" font-size="5.75" text-anchor="end" fill="#111" style="stroke-width:0.06px">CTSD</text>
<text x="382.6" y="215.91" font-size="5.75" text-anchor="end" fill="#111" style="stroke-width:0.06px">CYBB</text>
<text x="382.6" y="220.92" font-size="5.75" text-anchor="end" fill="#111" style="stroke-width:0.06px">CCL5</text>
<text x="382.6" y="225.94" font-size="5.75" text-anchor="end" fill="#111" style="stroke-width:0.06px">CD14</text>
<text x="382.6" y="230.96" font-size="5.75" text-anchor="end" fill="#111" style="stroke-width:0.06px">HIP1R</text>
<text x="382.6" y="235.97" font-size="5.75" text-anchor="end" fill="#111" style="stroke-width:0.06px">TLR2</text>
<text x="382.6" y="240.99" font-size="5.75" text-anchor="end" fill="#111" style="stroke-width:0.06px">RAB3D</text>
<text x="382.6" y="246.00" font-size="5.75" text-anchor="end" fill="#111" style="stroke-width:0.06px">CEBPA</text>
<text x="382.6" y="251.02" font-size="5.75" text-anchor="end" fill="#111" style="stroke-width:0.06px">RHOC</text>
<text x="382.6" y="256.04" font-size="5.75" text-anchor="end" fill="#111" style="stroke-width:0.06px">CD36</text>
<text x="382.6" y="261.05" font-size="5.75" text-anchor="end" fill="#111" style="stroke-width:0.06px">TREX1</text>
<text x="382.6" y="266.07" font-size="5.75" text-anchor="end" fill="#111" style="stroke-width:0.06px">TRAFD1</text>
<text x="382.6" y="271.08" font-size="5.75" text-anchor="end" fill="#111" style="stroke-width:0.06px">LGALS3</text>
<text x="382.6" y="276.10" font-size="5.75" text-anchor="end" fill="#111" style="stroke-width:0.06px">CD99</text>
<text x="382.6" y="281.12" font-size="5.75" text-anchor="end" fill="#111" style="stroke-width:0.06px">AIF1</text>
<text x="382.6" y="286.13" font-size="5.75" text-anchor="end" fill="#111" style="stroke-width:0.06px">STAT1</text>
<text x="382.6" y="291.15" font-size="5.75" text-anchor="end" fill="#111" style="stroke-width:0.06px">ICOSLG</text>
<text x="382.6" y="296.16" font-size="5.75" text-anchor="end" fill="#111" style="stroke-width:0.06px">C3AR1</text>
<text x="382.6" y="301.18" font-size="5.75" text-anchor="end" fill="#111" style="stroke-width:0.06px">NCF2</text>
<text x="382.6" y="306.20" font-size="5.75" text-anchor="end" fill="#111" style="stroke-width:0.06px">CASP1</text>
<text x="382.6" y="311.21" font-size="5.75" text-anchor="end" fill="#111" style="stroke-width:0.06px">CLIC4</text>
<text x="382.6" y="316.23" font-size="5.75" text-anchor="end" fill="#111" style="stroke-width:0.06px">PYCARD</text>
<text x="382.6" y="321.24" font-size="5.75" text-anchor="end" fill="#111" style="stroke-width:0.06px">PSMB8</text>
<text x="382.6" y="326.26" font-size="5.75" text-anchor="end" fill="#111" style="stroke-width:0.06px">TLR8</text>
<text x="382.6" y="331.28" font-size="5.75" text-anchor="end" fill="#111" style="stroke-width:0.06px">GNAI3</text>
<text x="382.6" y="336.29" font-size="5.75" text-anchor="end" fill="#111" style="stroke-width:0.06px">TLR1</text>
<text x="382.6" y="341.31" font-size="5.75" text-anchor="end" fill="#111" style="stroke-width:0.06px">PROK2</text>
<text x="382.6" y="346.32" font-size="5.75" text-anchor="end" fill="#111" style="stroke-width:0.06px">CSF1R</text>
<text x="382.6" y="351.34" font-size="5.75" text-anchor="end" fill="#111" style="stroke-width:0.06px">FURIN</text>
<text x="382.6" y="356.36" font-size="5.75" text-anchor="end" fill="#111" style="stroke-width:0.06px">IFNAR1</text>
<text transform="translate(396.80,360.5) rotate(-90)" font-size="8" text-anchor="end" fill="#111">Baseline</text>
<text transform="translate(412.60,360.5) rotate(-90)" font-size="8" text-anchor="end" fill="#111">Week 4</text>
<text transform="translate(428.40,360.5) rotate(-90)" font-size="8" text-anchor="end" fill="#111">Week 16</text>
<text transform="translate(444.20,360.5) rotate(-90)" font-size="8" text-anchor="end" fill="#111">Week 56</text>
<text transform="translate(460.00,360.5) rotate(-90)" font-size="8" text-anchor="end" fill="#111">Healthy</text>
<rect x="475.9" y="21.1" width="10.3" height="335.5" fill="url(#gB)" stroke="#666" stroke-width="0.5"/>
<line x1="475.9" y1="38.50" x2="477.4" y2="38.50" stroke="#000" stroke-width="1"/>
<line x1="484.7" y1="38.50" x2="486.2" y2="38.50" stroke="#000" stroke-width="1"/>
<text x="490.4" y="41.10" font-size="7.6" fill="#111">10</text>
<line x1="475.9" y1="115.38" x2="477.4" y2="115.38" stroke="#000" stroke-width="1"/>
<line x1="484.7" y1="115.38" x2="486.2" y2="115.38" stroke="#000" stroke-width="1"/>
<text x="490.4" y="117.98" font-size="7.6" fill="#111">8</text>
<line x1="475.9" y1="192.26" x2="477.4" y2="192.26" stroke="#000" stroke-width="1"/>
<line x1="484.7" y1="192.26" x2="486.2" y2="192.26" stroke="#000" stroke-width="1"/>
<text x="490.4" y="194.86" font-size="7.6" fill="#111">6</text>
<line x1="475.9" y1="269.14" x2="477.4" y2="269.14" stroke="#000" stroke-width="1"/>
<line x1="484.7" y1="269.14" x2="486.2" y2="269.14" stroke="#000" stroke-width="1"/>
<text x="490.4" y="271.74" font-size="7.6" fill="#111">4</text>
<line x1="475.9" y1="346.02" x2="477.4" y2="346.02" stroke="#000" stroke-width="1"/>
<line x1="484.7" y1="346.02" x2="486.2" y2="346.02" stroke="#000" stroke-width="1"/>
<text x="490.4" y="348.62" font-size="7.6" fill="#111">2</text>
<text transform="translate(511.5,189.3) rotate(-90) scale(0.775,1)" font-size="8.6" text-anchor="middle" fill="#000">Log2 relative expression</text>
<text x="7" y="17.2" font-size="11.3" font-weight="bold" fill="#000">A</text>
<text x="343.8" y="17" font-size="11.3" font-weight="bold" fill="#000">B</text>
<text x="6.8" y="193.8" font-size="11.3" font-weight="bold" fill="#000">C</text>
<line x1="45.20" y1="211.3" x2="45.20" y2="294.80" stroke="#111" stroke-width="1.25"/>
<line x1="44.60" y1="294.20" x2="167.00" y2="294.20" stroke="#111" stroke-width="1.2"/>
<line x1="42.20" y1="213.60" x2="45.20" y2="213.60" stroke="#222" stroke-width="1"/>
<text x="39.30" y="216.15" font-size="7.9" text-anchor="end" fill="#111">10</text>
<line x1="42.20" y1="229.70" x2="45.20" y2="229.70" stroke="#222" stroke-width="1"/>
<text x="39.30" y="232.25" font-size="7.9" text-anchor="end" fill="#111">8</text>
<line x1="42.20" y1="245.80" x2="45.20" y2="245.80" stroke="#222" stroke-width="1"/>
<text x="39.30" y="248.35" font-size="7.9" text-anchor="end" fill="#111">6</text>
<line x1="42.20" y1="261.90" x2="45.20" y2="261.90" stroke="#222" stroke-width="1"/>
<text x="39.30" y="264.45" font-size="7.9" text-anchor="end" fill="#111">4</text>
<line x1="42.20" y1="278.00" x2="45.20" y2="278.00" stroke="#222" stroke-width="1"/>
<text x="39.30" y="280.55" font-size="7.9" text-anchor="end" fill="#111">2</text>
<line x1="42.20" y1="294.10" x2="45.20" y2="294.10" stroke="#222" stroke-width="1"/>
<text x="39.30" y="296.65" font-size="7.9" text-anchor="end" fill="#111">0</text>
<line x1="57.60" y1="294.20" x2="57.60" y2="297.20" stroke="#222" stroke-width="1"/>
<text x="57.60" y="307.70" font-size="8.2" text-anchor="middle" fill="#000">B</text>
<line x1="81.80" y1="294.20" x2="81.80" y2="297.20" stroke="#222" stroke-width="1"/>
<text x="81.80" y="307.70" font-size="8.2" text-anchor="middle" fill="#000">W4</text>
<line x1="106.00" y1="294.20" x2="106.00" y2="297.20" stroke="#222" stroke-width="1"/>
<text x="106.00" y="307.70" font-size="8.2" text-anchor="middle" fill="#000">W16</text>
<line x1="130.20" y1="294.20" x2="130.20" y2="297.20" stroke="#222" stroke-width="1"/>
<text x="130.20" y="307.70" font-size="8.2" text-anchor="middle" fill="#000">W56</text>
<line x1="154.20" y1="294.20" x2="154.20" y2="297.20" stroke="#222" stroke-width="1"/>
<text x="154.20" y="307.70" font-size="8.2" text-anchor="middle" fill="#000">HD</text>
<text x="105.50" y="205.3" font-size="10" text-anchor="middle" fill="#111">S100A11</text>
<text transform="translate(22.30,252.5) rotate(-90) scale(0.785,1)" font-size="8.6" text-anchor="middle" fill="#111">Log2 relative expression</text>
<line x1="57.60" y1="218.40" x2="130.30" y2="218.40" stroke="#333" stroke-width="1.1"/>
<line x1="57.60" y1="215.00" x2="57.60" y2="221.80" stroke="#333" stroke-width="1.1"/>
<line x1="130.30" y1="215.00" x2="130.30" y2="221.80" stroke="#333" stroke-width="1.1"/>
<rect x="89.75" y="212.95" width="1.9" height="1.9" rx="0.5" fill="#222"/>
<rect x="92.80" y="212.95" width="1.9" height="1.9" rx="0.5" fill="#222"/>
<rect x="95.95" y="212.95" width="1.9" height="1.9" rx="0.5" fill="#222"/>
<circle cx="57.60" cy="241.30" r="1.85" fill="#ab001f"/>
<circle cx="55.40" cy="247.30" r="1.85" fill="#ab001f"/>
<circle cx="59.90" cy="247.30" r="1.85" fill="#ab001f"/>
<circle cx="51.30" cy="251.40" r="1.85" fill="#ab001f"/>
<circle cx="55.60" cy="252.70" r="1.85" fill="#ab001f"/>
<circle cx="63.90" cy="252.10" r="1.85" fill="#ab001f"/>
<circle cx="59.70" cy="254.60" r="1.85" fill="#ab001f"/>
<circle cx="57.60" cy="260.40" r="1.85" fill="#ab001f"/>
<circle cx="81.80" cy="237.00" r="1.85" fill="#ab001f"/>
<circle cx="79.30" cy="242.80" r="1.85" fill="#ab001f"/>
<circle cx="84.30" cy="242.80" r="1.85" fill="#ab001f"/>
<circle cx="86.80" cy="245.30" r="1.85" fill="#ab001f"/>
<circle cx="77.20" cy="247.20" r="1.85" fill="#ab001f"/>
<circle cx="81.80" cy="248.50" r="1.85" fill="#ab001f"/>
<circle cx="81.80" cy="254.20" r="1.85" fill="#ab001f"/>
<circle cx="86.90" cy="256.40" r="1.85" fill="#ab001f"/>
<circle cx="76.80" cy="258.30" r="1.85" fill="#ab001f"/>
<circle cx="81.50" cy="259.30" r="1.85" fill="#ab001f"/>
<circle cx="84.40" cy="261.90" r="1.85" fill="#ab001f"/>
<circle cx="79.40" cy="264.50" r="1.85" fill="#ab001f"/>
<circle cx="111.20" cy="229.80" r="1.85" fill="#ab001f"/>
<circle cx="101.00" cy="232.80" r="1.85" fill="#ab001f"/>
<circle cx="105.80" cy="234.80" r="1.85" fill="#ab001f"/>
<circle cx="112.30" cy="235.80" r="1.85" fill="#ab001f"/>
<circle cx="99.80" cy="236.20" r="1.85" fill="#ab001f"/>
<circle cx="108.00" cy="237.50" r="1.85" fill="#ab001f"/>
<circle cx="104.00" cy="240.00" r="1.85" fill="#ab001f"/>
<circle cx="103.50" cy="247.00" r="1.85" fill="#ab001f"/>
<circle cx="108.80" cy="247.50" r="1.85" fill="#ab001f"/>
<circle cx="106.00" cy="258.20" r="1.85" fill="#ab001f"/>
<circle cx="124.00" cy="228.20" r="1.85" fill="#ab001f"/>
<circle cx="126.20" cy="228.60" r="1.85" fill="#ab001f"/>
<circle cx="125.50" cy="230.50" r="1.85" fill="#ab001f"/>
<circle cx="127.80" cy="231.20" r="1.85" fill="#ab001f"/>
<circle cx="128.20" cy="233.40" r="1.85" fill="#ab001f"/>
<circle cx="129.80" cy="235.20" r="1.85" fill="#ab001f"/>
<circle cx="136.00" cy="229.00" r="1.85" fill="#ab001f"/>
<circle cx="134.00" cy="229.80" r="1.85" fill="#ab001f"/>
<circle cx="132.20" cy="231.20" r="1.85" fill="#ab001f"/>
<circle cx="131.80" cy="233.50" r="1.85" fill="#ab001f"/>
<circle cx="131.00" cy="235.80" r="1.85" fill="#ab001f"/>
<circle cx="130.30" cy="232.00" r="1.85" fill="#ab001f"/>
<circle cx="130.20" cy="250.00" r="1.85" fill="#ab001f"/>
<circle cx="154.20" cy="235.20" r="1.85" fill="#ab001f"/>
<circle cx="152.30" cy="243.50" r="1.85" fill="#ab001f"/>
<circle cx="157.30" cy="242.50" r="1.85" fill="#ab001f"/>
<circle cx="148.50" cy="246.00" r="1.85" fill="#ab001f"/>
<circle cx="161.00" cy="246.50" r="1.85" fill="#ab001f"/>
<circle cx="152.50" cy="249.00" r="1.85" fill="#ab001f"/>
<circle cx="156.70" cy="250.50" r="1.85" fill="#ab001f"/>
<circle cx="156.90" cy="254.50" r="1.85" fill="#ab001f"/>
<circle cx="152.30" cy="257.50" r="1.85" fill="#ab001f"/>
<line x1="49.00" y1="251.00" x2="65.90" y2="251.00" stroke="#111" stroke-width="1.2"/>
<line x1="57.60" y1="244.90" x2="57.60" y2="256.30" stroke="#111" stroke-width="1"/>
<line x1="53.90" y1="244.90" x2="61.75" y2="244.90" stroke="#111" stroke-width="1"/>
<line x1="53.90" y1="256.30" x2="61.75" y2="256.30" stroke="#111" stroke-width="1"/>
<line x1="73.20" y1="251.50" x2="90.50" y2="251.50" stroke="#111" stroke-width="1.2"/>
<line x1="81.80" y1="242.80" x2="81.80" y2="260.00" stroke="#111" stroke-width="1"/>
<line x1="78.00" y1="242.80" x2="85.80" y2="242.80" stroke="#111" stroke-width="1"/>
<line x1="78.00" y1="260.00" x2="85.80" y2="260.00" stroke="#111" stroke-width="1"/>
<line x1="97.50" y1="240.50" x2="114.50" y2="240.50" stroke="#111" stroke-width="1.2"/>
<line x1="106.00" y1="231.80" x2="106.00" y2="247.80" stroke="#111" stroke-width="1"/>
<line x1="102.50" y1="231.80" x2="109.50" y2="231.80" stroke="#111" stroke-width="1"/>
<line x1="102.50" y1="247.80" x2="109.50" y2="247.80" stroke="#111" stroke-width="1"/>
<line x1="122.00" y1="233.20" x2="138.50" y2="233.20" stroke="#111" stroke-width="1.2"/>
<line x1="130.20" y1="227.50" x2="130.20" y2="239.00" stroke="#111" stroke-width="1"/>
<line x1="126.50" y1="227.50" x2="133.80" y2="227.50" stroke="#111" stroke-width="1"/>
<line x1="126.50" y1="239.00" x2="133.80" y2="239.00" stroke="#111" stroke-width="1"/>
<line x1="146.00" y1="247.20" x2="162.80" y2="247.20" stroke="#111" stroke-width="1.2"/>
<line x1="154.20" y1="240.50" x2="154.20" y2="253.80" stroke="#111" stroke-width="1"/>
<line x1="150.20" y1="240.50" x2="158.00" y2="240.50" stroke="#111" stroke-width="1"/>
<line x1="150.20" y1="253.80" x2="158.00" y2="253.80" stroke="#111" stroke-width="1"/>
<line x1="206.35" y1="211.3" x2="206.35" y2="295.20" stroke="#111" stroke-width="1.25"/>
<line x1="205.75" y1="294.60" x2="326.70" y2="294.60" stroke="#111" stroke-width="1.2"/>
<line x1="203.35" y1="214.50" x2="206.35" y2="214.50" stroke="#222" stroke-width="1"/>
<text x="200.45" y="217.05" font-size="7.9" text-anchor="end" fill="#111">15</text>
<line x1="203.35" y1="241.20" x2="206.35" y2="241.20" stroke="#222" stroke-width="1"/>
<text x="200.45" y="243.75" font-size="7.9" text-anchor="end" fill="#111">10</text>
<line x1="203.35" y1="267.90" x2="206.35" y2="267.90" stroke="#222" stroke-width="1"/>
<text x="200.45" y="270.45" font-size="7.9" text-anchor="end" fill="#111">5</text>
<line x1="203.35" y1="294.60" x2="206.35" y2="294.60" stroke="#222" stroke-width="1"/>
<text x="200.45" y="297.15" font-size="7.9" text-anchor="end" fill="#111">0</text>
<line x1="218.50" y1="294.60" x2="218.50" y2="297.60" stroke="#222" stroke-width="1"/>
<text x="218.50" y="308.10" font-size="8.2" text-anchor="middle" fill="#000">B</text>
<line x1="242.60" y1="294.60" x2="242.60" y2="297.60" stroke="#222" stroke-width="1"/>
<text x="242.60" y="308.10" font-size="8.2" text-anchor="middle" fill="#000">W4</text>
<line x1="267.10" y1="294.60" x2="267.10" y2="297.60" stroke="#222" stroke-width="1"/>
<text x="267.10" y="308.10" font-size="8.2" text-anchor="middle" fill="#000">W16</text>
<line x1="291.30" y1="294.60" x2="291.30" y2="297.60" stroke="#222" stroke-width="1"/>
<text x="291.30" y="308.10" font-size="8.2" text-anchor="middle" fill="#000">W56</text>
<line x1="315.40" y1="294.60" x2="315.40" y2="297.60" stroke="#222" stroke-width="1"/>
<text x="315.40" y="308.10" font-size="8.2" text-anchor="middle" fill="#000">HD</text>
<text x="267.00" y="205.3" font-size="10" text-anchor="middle" fill="#111">CTSS</text>
<text transform="translate(183.60,252.5) rotate(-90) scale(0.785,1)" font-size="8.6" text-anchor="middle" fill="#111">Log2 relative expression</text>
<line x1="218.50" y1="218.90" x2="291.30" y2="218.90" stroke="#333" stroke-width="1.1"/>
<line x1="218.50" y1="216.10" x2="218.50" y2="222.50" stroke="#333" stroke-width="1.1"/>
<line x1="291.30" y1="216.10" x2="291.30" y2="222.50" stroke="#333" stroke-width="1.1"/>
<rect x="250.95" y="213.95" width="1.9" height="1.9" rx="0.5" fill="#222"/>
<rect x="253.90" y="213.95" width="1.9" height="1.9" rx="0.5" fill="#222"/>
<rect x="256.95" y="213.95" width="1.9" height="1.9" rx="0.5" fill="#222"/>
<circle cx="213.50" cy="252.50" r="1.85" fill="#ab001f"/>
<circle cx="218.50" cy="254.40" r="1.85" fill="#ab001f"/>
<circle cx="223.50" cy="253.50" r="1.85" fill="#ab001f"/>
<circle cx="212.30" cy="256.50" r="1.85" fill="#ab001f"/>
<circle cx="224.80" cy="259.40" r="1.85" fill="#ab001f"/>
<circle cx="216.60" cy="261.30" r="1.85" fill="#ab001f"/>
<circle cx="220.40" cy="261.50" r="1.85" fill="#ab001f"/>
<circle cx="221.00" cy="266.00" r="1.85" fill="#ab001f"/>
<circle cx="216.30" cy="269.00" r="1.85" fill="#ab001f"/>
<circle cx="236.60" cy="252.30" r="1.85" fill="#ab001f"/>
<circle cx="249.10" cy="251.60" r="1.85" fill="#ab001f"/>
<circle cx="241.00" cy="253.50" r="1.85" fill="#ab001f"/>
<circle cx="245.40" cy="252.80" r="1.85" fill="#ab001f"/>
<circle cx="238.30" cy="258.50" r="1.85" fill="#ab001f"/>
<circle cx="242.90" cy="258.80" r="1.85" fill="#ab001f"/>
<circle cx="247.30" cy="258.10" r="1.85" fill="#ab001f"/>
<circle cx="237.30" cy="261.50" r="1.85" fill="#ab001f"/>
<circle cx="238.80" cy="261.90" r="1.85" fill="#ab001f"/>
<circle cx="248.50" cy="262.30" r="1.85" fill="#ab001f"/>
<circle cx="242.90" cy="264.40" r="1.85" fill="#ab001f"/>
<circle cx="246.00" cy="264.80" r="1.85" fill="#ab001f"/>
<circle cx="262.10" cy="246.90" r="1.85" fill="#ab001f"/>
<circle cx="267.10" cy="247.30" r="1.85" fill="#ab001f"/>
<circle cx="272.10" cy="246.00" r="1.85" fill="#ab001f"/>
<circle cx="269.60" cy="249.00" r="1.85" fill="#ab001f"/>
<circle cx="264.60" cy="251.90" r="1.85" fill="#ab001f"/>
<circle cx="260.90" cy="254.80" r="1.85" fill="#ab001f"/>
<circle cx="272.80" cy="254.80" r="1.85" fill="#ab001f"/>
<circle cx="265.30" cy="257.80" r="1.85" fill="#ab001f"/>
<circle cx="269.00" cy="258.50" r="1.85" fill="#ab001f"/>
<circle cx="267.10" cy="266.90" r="1.85" fill="#ab001f"/>
<circle cx="291.30" cy="237.30" r="1.85" fill="#ab001f"/>
<circle cx="286.30" cy="240.60" r="1.85" fill="#ab001f"/>
<circle cx="290.90" cy="243.80" r="1.85" fill="#ab001f"/>
<circle cx="296.50" cy="242.80" r="1.85" fill="#ab001f"/>
<circle cx="297.30" cy="245.80" r="1.85" fill="#ab001f"/>
<circle cx="285.50" cy="247.30" r="1.85" fill="#ab001f"/>
<circle cx="287.50" cy="249.00" r="1.85" fill="#ab001f"/>
<circle cx="289.50" cy="250.30" r="1.85" fill="#ab001f"/>
<circle cx="291.30" cy="251.00" r="1.85" fill="#ab001f"/>
<circle cx="293.20" cy="250.20" r="1.85" fill="#ab001f"/>
<circle cx="295.20" cy="248.80" r="1.85" fill="#ab001f"/>
<circle cx="290.50" cy="248.30" r="1.85" fill="#ab001f"/>
<circle cx="292.80" cy="248.30" r="1.85" fill="#ab001f"/>
<circle cx="291.30" cy="261.30" r="1.85" fill="#ab001f"/>
<circle cx="315.40" cy="246.60" r="1.85" fill="#ab001f"/>
<circle cx="309.50" cy="249.80" r="1.85" fill="#ab001f"/>
<circle cx="321.60" cy="251.30" r="1.85" fill="#ab001f"/>
<circle cx="313.50" cy="253.50" r="1.85" fill="#ab001f"/>
<circle cx="317.90" cy="254.00" r="1.85" fill="#ab001f"/>
<circle cx="321.60" cy="257.80" r="1.85" fill="#ab001f"/>
<circle cx="309.50" cy="260.00" r="1.85" fill="#ab001f"/>
<circle cx="317.50" cy="259.80" r="1.85" fill="#ab001f"/>
<circle cx="313.50" cy="262.30" r="1.85" fill="#ab001f"/>
<line x1="210.40" y1="259.10" x2="227.00" y2="259.10" stroke="#111" stroke-width="1.2"/>
<line x1="218.50" y1="254.00" x2="218.50" y2="265.30" stroke="#111" stroke-width="1"/>
<line x1="214.80" y1="254.00" x2="222.30" y2="254.00" stroke="#111" stroke-width="1"/>
<line x1="214.80" y1="265.30" x2="222.30" y2="265.30" stroke="#111" stroke-width="1"/>
<line x1="234.50" y1="258.80" x2="251.30" y2="258.80" stroke="#111" stroke-width="1.2"/>
<line x1="242.60" y1="254.40" x2="242.60" y2="263.10" stroke="#111" stroke-width="1"/>
<line x1="239.00" y1="254.40" x2="246.60" y2="254.40" stroke="#111" stroke-width="1"/>
<line x1="239.00" y1="263.10" x2="246.60" y2="263.10" stroke="#111" stroke-width="1"/>
<line x1="258.80" y1="253.50" x2="275.50" y2="253.50" stroke="#111" stroke-width="1.2"/>
<line x1="267.10" y1="246.50" x2="267.10" y2="259.80" stroke="#111" stroke-width="1"/>
<line x1="263.40" y1="246.50" x2="271.30" y2="246.50" stroke="#111" stroke-width="1"/>
<line x1="263.40" y1="259.80" x2="271.30" y2="259.80" stroke="#111" stroke-width="1"/>
<line x1="283.00" y1="247.50" x2="299.60" y2="247.50" stroke="#111" stroke-width="1.2"/>
<line x1="291.30" y1="241.30" x2="291.30" y2="253.10" stroke="#111" stroke-width="1"/>
<line x1="287.10" y1="241.30" x2="295.00" y2="241.30" stroke="#111" stroke-width="1"/>
<line x1="287.10" y1="253.10" x2="295.00" y2="253.10" stroke="#111" stroke-width="1"/>
<line x1="307.00" y1="255.00" x2="323.50" y2="255.00" stroke="#111" stroke-width="1.2"/>
<line x1="315.40" y1="249.80" x2="315.40" y2="260.40" stroke="#111" stroke-width="1"/>
<line x1="311.00" y1="249.80" x2="319.80" y2="249.80" stroke="#111" stroke-width="1"/>
<line x1="311.00" y1="260.40" x2="319.80" y2="260.40" stroke="#111" stroke-width="1"/>
<rect x="0" y="0" width="520" height="1.4" fill="#000"/>
<rect x="0" y="0" width="1.3" height="400" fill="#000"/>
<rect x="518.8" y="0" width="1.2" height="400" fill="#000"/>
<rect x="0" y="398.6" width="520" height="1.4" fill="#000"/>
</svg></body></html>
